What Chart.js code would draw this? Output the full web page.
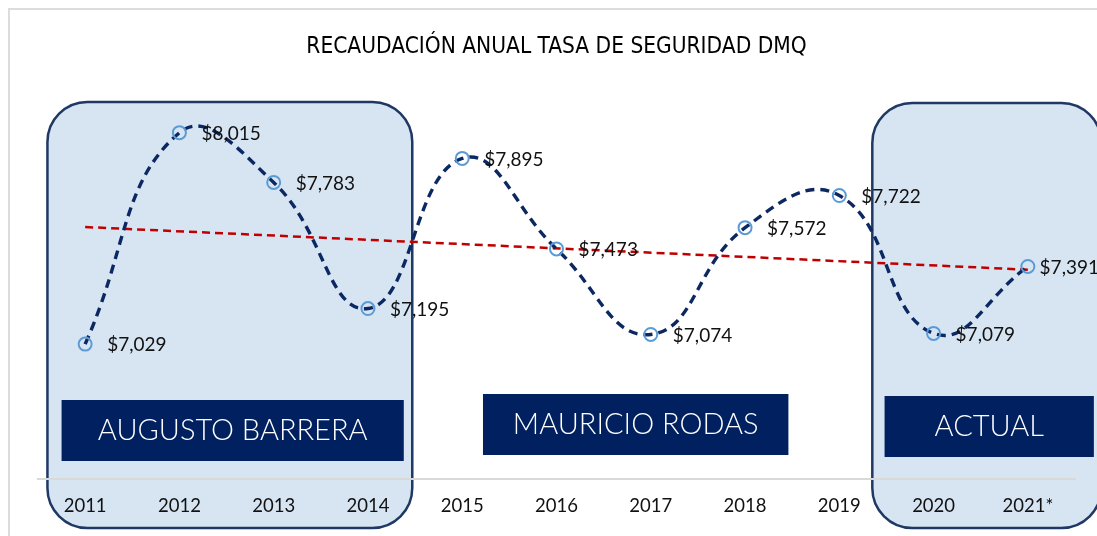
<!DOCTYPE html>
<html>
<head>
<meta charset="utf-8">
<script src="https://cdn.jsdelivr.net/npm/chart.js@4"></script>
<style>
  html, body { margin: 0; padding: 0; background: #fff; overflow: hidden; }
  #frame { position: absolute; left: 8px; top: 8px; width: 1200px; height: 700px; border: 2px solid #dcdcdc; box-sizing: border-box; }
  #wrap { position: absolute; left: 0; top: 0; width: 1097px; height: 536px; }
</style>
</head>
<body>
<div id="frame"></div>
<div id="wrap"><canvas id="myChart" width="1097" height="536"></canvas></div>
<script>
// años y recaudación anual (miles de USD)
const years = ['2011', '2012', '2013', '2014', '2015', '2016', '2017', '2018', '2019', '2020', '2021*'];
const recaudacion = [7029, 8015, 7783, 7195, 7895, 7473, 7074, 7572, 7722, 7079, 7391];
// línea de tendencia: solo extremos, el resto se une con spanGaps
const tendencia = [7575, null, null, null, null, null, null, null, null, null, 7376];
// administraciones: nombre, primer y último índice del periodo
const alcaldes = ['AUGUSTO BARRERA', 'MAURICIO RODAS', 'ACTUAL'];
const desde = [0, 4, 9];
const hasta = [3, 8, 10];

const NAVY = '#002060';

// fondos redondeados detrás de los periodos de Barrera y actual
const periodBoxes = {
  id: 'periodBoxes',
  beforeDraw(chart) {
    const { ctx, scales: { x } } = chart;
    const w = x.getPixelForValue(1) - x.getPixelForValue(0);
    ctx.save();
    ctx.fillStyle = '#d7e5f3';
    ctx.strokeStyle = '#1f3864';
    ctx.lineWidth = 2.5;
    // Barrera
    let l = x.getPixelForValue(desde[0]) - 0.4 * w;
    let r = x.getPixelForValue(hasta[0]) + 0.47 * w;
    ctx.beginPath();
    ctx.roundRect(l, 102, r - l, 426, 40);
    ctx.fill(); ctx.stroke();
    // actual
    l = x.getPixelForValue(desde[2]) - 0.65 * w;
    r = x.getPixelForValue(hasta[2]) + 0.78 * w;
    ctx.beginPath();
    ctx.roundRect(l, 103, r - l, 425, 40);
    ctx.fill(); ctx.stroke();
    ctx.restore();
  },
  beforeDatasetsDraw(chart) {
    const { ctx, scales: { x } } = chart;
    const w = x.getPixelForValue(1) - x.getPixelForValue(0);
    // rectángulos con el nombre de cada alcalde
    const rects = [
      [x.getPixelForValue(desde[0]) - 0.25 * w, x.getPixelForValue(hasta[0]) + 0.38 * w, 400],
      [x.getPixelForValue(desde[1]) + 0.22 * w, x.getPixelForValue(hasta[1]) - 0.54 * w, 394],
      [x.getPixelForValue(desde[2]) - 0.52 * w, x.getPixelForValue(hasta[2]) + 0.7 * w, 396]
    ];
    ctx.save();
    ctx.font = '300 29px Lato, "Open Sans", sans-serif';
    ctx.textAlign = 'center';
    ctx.textBaseline = 'middle';
    rects.forEach(([l, r, t], i) => {
      ctx.fillStyle = NAVY;
      ctx.fillRect(l, t, r - l, 61);
      ctx.fillStyle = '#fff';
      ctx.fillText(alcaldes[i], (l + r) / 2, t + 31);
    });
    ctx.restore();
  }
};

// etiquetas "$7,029" a la derecha de cada punto
const valueLabels = {
  id: 'valueLabels',
  afterDatasetsDraw(chart) {
    const { ctx } = chart;
    const meta = chart.getDatasetMeta(0);
    ctx.save();
    ctx.font = '19px Lato, "Open Sans", sans-serif';
    ctx.fillStyle = '#111';
    ctx.textAlign = 'left';
    ctx.textBaseline = 'middle';
    meta.data.forEach((pt, i) => {
      const txt = '$' + recaudacion[i].toLocaleString('en-US');
      const tx = Math.min(pt.x + 22, chart.width - ctx.measureText(txt).width + 2);
      ctx.fillText(txt, tx, pt.y + 1);
    });
    ctx.restore();
  }
};

const data = {
  labels: years,
  datasets: [{
      label: 'Recaudación',
      data: recaudacion,
      borderColor: '#0c2862',
      borderWidth: 3.4,
      borderDash: [9, 6],
      tension: 0.45,
      pointRadius: 6.5,
      pointBorderWidth: 2,
      pointBorderColor: '#5b9bd5',
      pointBackgroundColor: 'rgba(0,0,0,0)'
    }, {
      label: 'Tendencia',
      data: tendencia,
      spanGaps: true,
      borderColor: '#c00000',
      borderWidth: 2.5,
      borderDash: [8, 5],
      pointRadius: 0,
      tension: 0
    }
  ]
};

const config = {
  type: 'line',
  data,
  plugins: [periodBoxes, valueLabels],
  options: {
    responsive: false,
    animation: false,
    layout: { padding: { left: 38, right: 22, top: 0, bottom: 0 } },
    plugins: {
      legend: { display: false },
      tooltip: { enabled: false },
      title: {
        display: true,
        text: 'RECAUDACIÓN ANUAL TASA DE SEGURIDAD DMQ',
        color: '#000',
        font: { family: '"DejaVu Sans Condensed", "Liberation Sans Narrow", sans-serif', size: 22.5, weight: 'normal', lineHeight: 1.2 },
        padding: { top: 34, bottom: 32 }
      }
    },
    scales: {
      x: {
        offset: true,
        grid: { display: false },
        border: { display: true, color: '#d9d9d9', width: 2 },
        ticks: { color: '#111', font: { family: 'Lato, "Open Sans", sans-serif', size: 18.5 }, padding: 8 },
        afterFit: (s) => { s.height = 57; }
      },
      y: {
        display: false,
        min: 6400,
        max: 8200
      }
    }
  }
};

const myChart = new Chart(document.getElementById('myChart'), config);
</script>
</body>
</html>
